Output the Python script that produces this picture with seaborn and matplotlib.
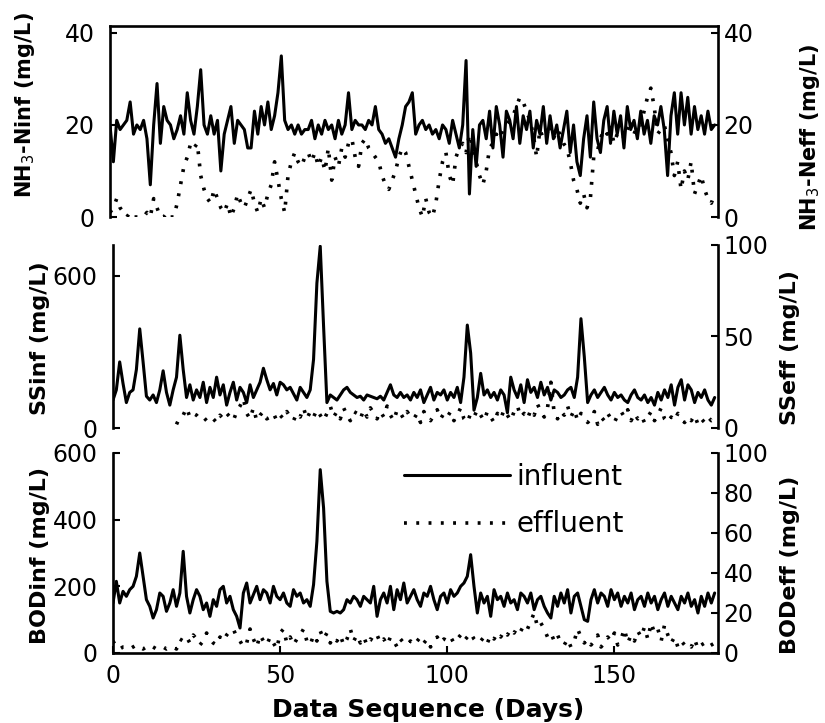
import numpy as np
import pandas as pd
import matplotlib
matplotlib.use("Agg")
import matplotlib.pyplot as plt
import seaborn as sns

days = list(range(0, 181))

nh3_inf = [20, 12, 21, 19, 20, 21, 25, 18, 20, 19,
           21, 17, 7, 20, 29, 16, 24, 21, 20, 17,
           19, 22, 18, 27, 21, 18, 24, 32, 20, 18,
           22, 18, 21, 10, 18, 21, 24, 16, 21, 20,
           19, 15, 15, 23, 18, 24, 20, 25, 19, 22,
           27, 35, 21, 19, 20, 18, 20, 18, 19, 19,
           21, 17, 20, 18, 21, 19, 20, 17, 21, 18,
           20, 27, 19, 21, 20, 20, 19, 21, 20, 24,
           19, 18, 16, 17, 15, 13, 17, 20, 24, 25,
           27, 18, 20, 21, 19, 20, 18, 19, 17, 20,
           19, 16, 21, 18, 15, 20, 34, 5, 19, 11,
           20, 21, 17, 23, 15, 24, 20, 13, 23, 21,
           17, 24, 16, 22, 19, 23, 15, 21, 18, 24,
           16, 22, 17, 20, 15, 19, 23, 14, 20, 12,
           9, 17, 22, 13, 25, 17, 14, 21, 24, 16,
           23, 18, 22, 15, 24, 19, 21, 17, 23, 18,
           21, 16, 22, 20, 24, 19, 9, 22, 27, 18,
           27, 20, 26, 18, 24, 19, 22, 18, 23, 19,
           20]

nh3_eff = [1, 2, 4, 2, 1, 0, 1, 0, 0, 0,
           0, 1, 0, 4, 2, 0, 0, 1, 0, 0,
           3, 7, 11, 13, 16, 15, 16, 9, 6, 4,
           3, 6, 4, 2, 1, 3, 0, 2, 5, 3,
           2, 4, 6, 3, 1, 4, 2, 5, 7, 12,
           8, 4, 1, 9, 12, 14, 12, 11, 13, 14,
           12, 14, 11, 13, 10, 15, 8, 13, 11, 15,
           13, 16, 17, 13, 11, 16, 17, 15, 14, 13,
           12, 9, 7, 6, 8, 10, 13, 15, 14, 11,
           8, 5, 2, 0, 4, 1, 0, 3, 8, 12,
           14, 9, 7, 13, 15, 16, 14, 18, 15, 12,
           9, 7, 10, 15, 16, 18, 17, 19, 20, 21,
           22, 24, 26, 25, 23, 21, 18, 13, 19, 17,
           18, 20, 17, 19, 18, 16, 15, 12, 8, 6,
           3, 5, 2, 4, 13, 14, 17, 19, 18, 20,
           16, 18, 20, 17, 19, 21, 18, 20, 20, 23,
           26, 28, 24, 18, 19, 20, 17, 14, 9, 12,
           6, 10, 8, 12, 5, 7, 9, 6, 4, 3,
           5]

ss_inf = [110, 150, 260, 175, 100, 140, 150, 230, 390, 260,
          125, 110, 130, 100, 150, 225, 140, 90, 150, 200,
          365, 230, 120, 170, 110, 150, 120, 180, 100, 160,
          120, 200, 130, 170, 90, 140, 180, 110, 160, 140,
          100, 170, 120, 150, 180, 235, 190, 150, 175, 130,
          180, 170, 150, 160, 135, 110, 160, 140, 120, 150,
          270, 570, 715, 400, 100, 130, 120, 110, 130, 150,
          160, 140, 130, 120, 125, 110, 130, 125, 120, 115,
          125, 110, 140, 170, 130, 120, 140, 120, 130, 110,
          140, 120, 150, 100, 130, 160, 110, 140, 130, 150,
          110, 140, 120, 160, 100, 200, 405, 295, 70, 120,
          215, 130, 150, 120, 140, 110, 150, 130, 60, 200,
          150, 120, 170, 100, 190, 140, 160, 120, 180, 130,
          160, 110, 150, 140, 120, 130, 150, 160, 120, 200,
          430, 280, 100, 130, 150, 120, 140, 160, 130, 110,
          140, 120, 130, 110, 100, 130, 150, 120, 110, 130,
          100, 120, 90, 140, 110, 150, 120, 170, 90, 160,
          190, 110, 170, 150, 100, 140, 120, 150, 110, 90,
          120]

ss_eff = [np.nan] * 19 + [
          2, 6, 7, 11, 6, 8, 7, 5, 6, 4, 6,
          5, 3, 7, 5, 8, 6, 4, 9, 12, 16,
          8, 5, 11, 4, 7, 9, 5, 6, 8, 4,
          7, 5, 9, 6, 4, 8, 6, 11, 5, 9,
          6, 10, 7, 4, 8, 12, 6, 9, 5, 11,
          7, 4, 9, 8, 5, 10, 6, 11, 8, 5,
          9, 6, 12, 7, 4, 10, 8, 5, 9, 6,
          5, 8, 3, 9, 6, 4, 7, 10, 5, 8,
          6, 9, 4, 7, 11, 5, 3, 8, 6, 10,
          7, 4, 9, 6, 3, 8, 5, 10, 7, 4,
          9, 12, 6, 8, 5, 10, 7, 13, 9, 6,
          11, 25, 8, 5, 9, 7, 12, 6, 10, 4,
          8, 6, 3, 5, 9, 2, 6, 4, 8, 5,
          3, 7, 9, 6, 10, 4, 8, 5, 7, 3,
          6, 9, 4, 7, 11, 5, 3, 6, 4, 8,
          5, 3, 6, 4, 7, 2, 5, 3, 6, 4,
          5]

bod_inf = [150, 215, 150, 185, 170, 190, 200, 230, 300, 230,
           160, 140, 105, 130, 180, 170, 125, 150, 190, 140,
           180, 305, 170, 120, 160, 190, 170, 130, 150, 110,
           160, 140, 190, 200, 150, 170, 130, 110, 75, 180,
           210, 150, 175, 200, 160, 190, 180, 150, 200, 170,
           160, 180, 150, 140, 190, 170, 180, 150, 160, 140,
           205, 335, 550, 435, 215, 125, 120, 125, 120, 130,
           160, 150, 170, 160, 140, 170, 160, 150, 200, 110,
           160, 180, 150, 200, 130, 190, 160, 210, 150, 170,
           190, 160, 140, 180, 170, 200, 160, 130, 170, 180,
           150, 190, 170, 180, 200, 210, 230, 295, 200, 120,
           180, 150, 170, 110, 190, 160, 170, 140, 180, 150,
           160, 130, 180, 170, 150, 180, 130, 160, 170, 140,
           120, 105, 170, 140, 180, 150, 190, 120, 170, 180,
           140, 100, 95, 160, 190, 150, 180, 170, 140, 190,
           160, 180, 140, 170, 150, 180, 130, 160, 170, 140,
           180, 150, 170, 130, 160, 180, 140, 170, 150, 130,
           170, 150, 180, 140, 160, 120, 170, 140, 180, 150,
           180]

bod_eff = [6, 3, 2, 3, 3, 2, 3, 4, 3, 2,
           3, 4, 3, 2, 3, 3, 2, 3, 3, 2,
           7, 6, 8, 5, 9, 7, 4, 6, 10, 7,
           5, 4, 8, 6, 9, 11, 12, 8, 6, 3,
           5, 12, 7, 3, 9, 6, 4, 8, 5, 2,
           10, 12, 5, 8, 4, 7, 9, 12, 6, 4,
           9, 6, 11, 7, 10, 5, 8, 6, 9, 4,
           7, 12, 6, 9, 5, 8, 4, 7, 6, 9,
           5, 7, 4, 8, 6, 3, 7, 5, 4, 6,
           4, 6, 8, 5, 7, 3, 6, 8, 5, 7,
           6, 8, 5, 7, 9, 6, 8, 10, 7, 5,
           6, 8, 5, 9, 7, 10, 8, 11, 9, 12,
           10, 13, 11, 14, 12, 16, 20, 13, 15, 12,
           8, 10, 6, 9, 5, 4, 7, 3, 6, 12,
           8, 5, 7, 4, 6, 9, 3, 5, 8, 6,
           10, 4, 7, 12, 5, 9, 6, 11, 8, 13,
           7, 15, 10, 12, 6, 14, 9, 5, 8, 3,
           6, 4, 5, 3, 7, 2, 4, 5, 3, 4,
           5]

labels_left = ["NH$_3$-Ninf (mg/L)", "SSinf (mg/L)", "BODinf (mg/L)"]
labels_right = ["NH$_3$-Neff (mg/L)", "SSeff (mg/L)", "BODeff (mg/L)"]
x_label = "Data Sequence (Days)"
x_ticks = [0, 50, 100, 150]

sns.set_theme(style="ticks")
plt.rcParams["font.family"] = ["DejaVu Sans"]
plt.rcParams["text.color"] = "black"
plt.rcParams["axes.labelcolor"] = "black"
plt.rcParams["xtick.color"] = "black"
plt.rcParams["ytick.color"] = "black"

W, H = 825, 723
fig = plt.figure(figsize=(W / 100, H / 100), dpi=100)


def px_rect(l, r, t, b):
    return [l / W, 1 - b / H, (r - l) / W, (b - t) / H]


ax_top = fig.add_axes(px_rect(110, 718, 26, 217))
ax_mid = fig.add_axes(px_rect(113, 718, 245, 428))
ax_bot = fig.add_axes(px_rect(113, 718, 453, 653))

inf_kw = dict(color="black", linewidth=2.2)
eff_kw = dict(color="black", linewidth=2.6, linestyle=(0, (0.8, 2.6)))

panels = [
    (ax_top, nh3_inf, nh3_eff, (0, 41.5), (0, 41.5), [0, 20, 40], [0, 20, 40]),
    (ax_mid, ss_inf, ss_eff, (0, 720), (0, 100), [0, 600], [0, 50, 100]),
    (ax_bot, bod_inf, bod_eff, (0, 600), (0, 100), [0, 200, 400, 600], [0, 20, 40, 60, 80, 100]),
]

twins = []
for i, (ax, inf, eff, yl, yr, tl, tr) in enumerate(panels):
    df = pd.DataFrame({"day": days, "inf": inf, "eff": eff})
    ax2 = ax.twinx()
    twins.append(ax2)
    sns.lineplot(data=df, x="day", y="inf", ax=ax, label="influent", legend=False, **inf_kw)
    sns.lineplot(data=df.dropna(), x="day", y="eff", ax=ax2, label="effluent", legend=False, **eff_kw)
    ax.set_xlim(0, 181)
    ax.set_ylim(*yl)
    ax2.set_ylim(*yr)
    ax.set_yticks(tl)
    ax2.set_yticks(tr)
    ax.set_ylabel("")
    ax2.set_ylabel("")
    ax.set_xlabel("")
    for a in (ax, ax2):
        a.set_facecolor("none")
        for s in a.spines.values():
            s.set_visible(False)
            s.set_linewidth(1.9)
            s.set_color("black")
        a.tick_params(axis="both", direction="in", length=5, width=1.5,
                      labelsize=17, colors="black")
    ax.spines["left"].set_visible(True)
    ax2.spines["right"].set_visible(True)
    ax.tick_params(axis="y", pad=11)
    ax2.tick_params(axis="y", pad=4)
    if i == 0:
        ax.spines["top"].set_visible(True)
    if i == 2:
        ax.spines["bottom"].set_visible(True)
        ax.set_xticks(x_ticks)
        ax.tick_params(axis="x", pad=8)
        ax2.tick_params(axis="x", bottom=False, labelbottom=False, top=False)
    else:
        ax.tick_params(axis="x", bottom=False, labelbottom=False)
        ax2.tick_params(axis="x", bottom=False, labelbottom=False)

# axis labels
lab_kw = dict(fontweight="bold", rotation=90, ha="center", va="center", color="black")
fig.text(25 / W, 1 - 105 / H, labels_left[0], fontsize=15, **lab_kw)
fig.text(40 / W, 1 - 338 / H, labels_left[1], fontsize=16, **lab_kw)
fig.text(40 / W, 1 - 556 / H, labels_left[2], fontsize=16, **lab_kw)
fig.text(810 / W, 1 - 137 / H, labels_right[0], fontsize=15, **lab_kw)
fig.text(790 / W, 1 - 348 / H, labels_right[1], fontsize=16, **lab_kw)
fig.text(790 / W, 1 - 565 / H, labels_right[2], fontsize=16, **lab_kw)
fig.text(428 / W, 1 - 710 / H, x_label, fontsize=18, fontweight="bold",
         ha="center", va="center", color="black")

# legend
h1, l1 = ax_bot.get_legend_handles_labels()
h2, l2 = twins[2].get_legend_handles_labels()
leg = ax_bot.legend(h1 + h2, l1 + l2, loc="upper left",
                    bbox_to_anchor=(0.44, 1.075), frameon=False,
                    fontsize=20, handlelength=3.8, handletextpad=0.25,
                    labelspacing=0.7)
for t in leg.get_texts():
    t.set_color("black")

fig.savefig("out.png", dpi=100)
